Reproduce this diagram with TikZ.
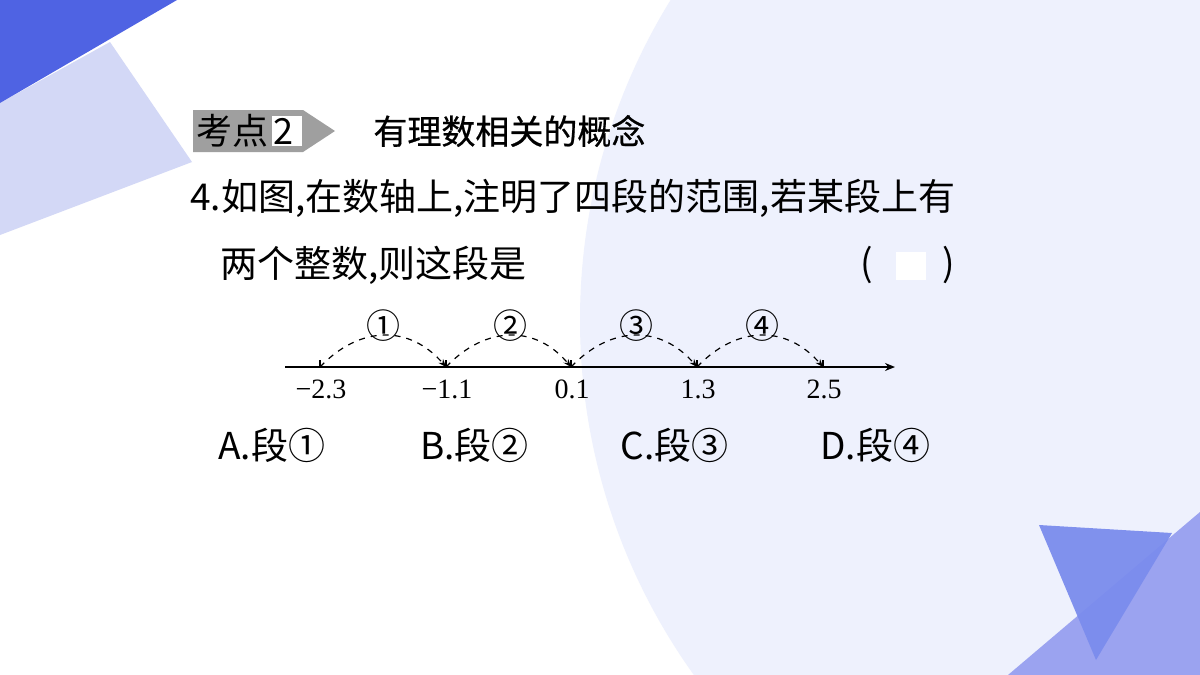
\documentclass[tikz,border=0pt]{standalone}
\usepackage{fontspec}
\setmainfont{Liberation Serif}
\newfontfamily\cjk{Noto Sans CJK SC}
\newfontfamily\cjkb[FakeBold=0.6]{Noto Sans CJK SC}
\usetikzlibrary{arrows.meta}
\definecolor{bgc}{HTML}{EEF1FD}
\definecolor{dblue}{HTML}{4F63E3}
\definecolor{lav}{HTML}{D3D8F6}
\definecolor{lpur}{HTML}{9BA3F0}
\definecolor{tri}{HTML}{7B8CED}
\tikzset{q/.style={font=\cjk\fontsize{18.5}{18}\selectfont,anchor=west,inner sep=0},
 lab/.style={font=\fontsize{14}{14}\selectfont,inner sep=0},
 circ/.style={font=\cjk\fontsize{17}{17}\selectfont,inner sep=0},
 arc/.style={dashed,-{Stealth[length=4pt,width=3pt]},line width=0.6pt}}
\begin{document}
\begin{tikzpicture}[x=0.5pt,y=-0.5pt]
\useasboundingbox (0,0) rectangle (1200,675);
\begin{scope}
\clip (0,0) rectangle (1200,675);
\fill[white] (0,0) rectangle (1200,675);
\fill[bgc] (1190,320) circle (610);
\fill[lav] (110,42) -- (192,162) -- (0,235) -- (0,103) -- cycle;
\fill[dblue] (0,0) -- (177,0) -- (0,103) -- cycle;
\fill[lpur] (1008,675) -- (1200,512) -- (1200,675) -- cycle;
\fill[tri,opacity=0.95] (1039,525) -- (1172,533) -- (1096,660) -- cycle;
\end{scope}
% header
\fill[gray!75] (193,110) -- (303,110) -- (335,131) -- (303,152) -- (193,152) -- cycle;
\fill[white] (272,116) rectangle (302,146);
\node[font=\cjk\fontsize{18}{18}\selectfont,anchor=west,inner sep=0] (kd) at (196,131) {考点};
\node[font=\cjk\fontsize{18}{18}\selectfont,inner sep=0] (k2) at (283,131) {2};
\node[font=\cjkb\fontsize{17}{18}\selectfont,anchor=west,inner sep=0] (tt) at (373,131) {有理数相关的概念};
\node[q] (l1) at (190,198) {4.如图,在数轴上,注明了四段的范围,若某段上有};
\node[q] (l2) at (220,265) {两个整数,则这段是};
\node[q] (pl) at (860,265) {(};
\node[q] (pr) at (942,265) {)};
\fill[white] (896,252) rectangle (926,280);
% number line
\coordinate (s) at (285,367);
\coordinate (e) at (895,367);
\draw[line width=0.8pt,-{Stealth[length=5pt,width=4pt]}] (s) -- (e);
\foreach \x/\n/\t in {320/a/−2.3,446/b/−1.1,571/c/0.1,697/d/1.3,823/e/2.5}{
 \coordinate (\n) at (\x,367);
 \draw[line width=0.6pt] (\n) -- ++(0,-7);
 \node[lab] at (\x+1,389) {\t};}
\draw[arc] (a) .. controls (360,325) and (410,325) .. (b);
\draw[arc] (b) .. controls (486,325) and (536,325) .. (c);
\draw[arc] (c) .. controls (611,325) and (661,325) .. (d);
\draw[arc] (d) .. controls (737,325) and (787,325) .. (e);
\node[circ] (c1) at (383,326) {①};
\node[circ] (c2) at (510,326) {②};
\node[circ] (c3) at (636,326) {③};
\node[circ] (c4) at (762,326) {④};
\node[q] (A) at (218,445) {A.段①};
\node[q] (B) at (420,445) {B.段②};
\node[q] (C) at (620,445) {C.段③};
\node[q] (D) at (820,445) {D.段④};
\end{tikzpicture}
\end{document}
